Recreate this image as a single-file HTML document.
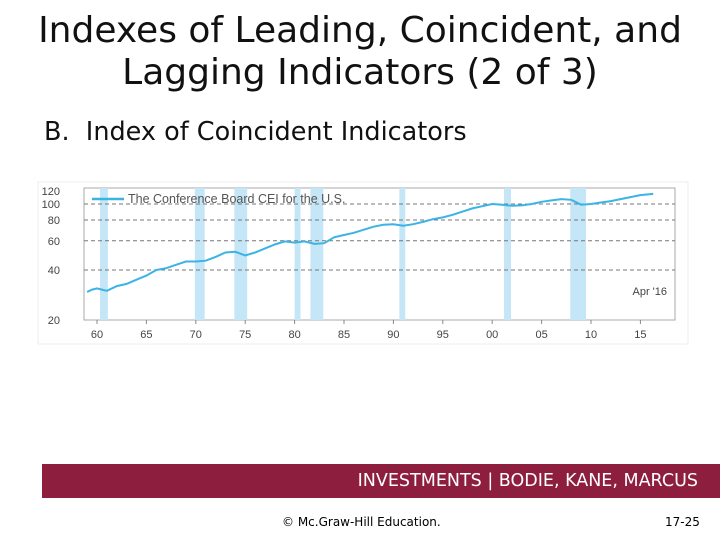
<!DOCTYPE html>
<html><head><meta charset="utf-8"><style>
body{margin:0;width:720px;height:540px;background:#fff;font-family:"DejaVu Sans","Liberation Sans",sans-serif;position:relative;overflow:hidden}
.t{position:absolute;left:0;width:720px;text-align:center;font-size:36px;line-height:42px;top:10px;color:#111}
.sub{position:absolute;left:44px;top:117px;font-size:25.5px;color:#111}
.bar{position:absolute;left:42px;top:464px;width:678px;height:34px;background:#8e1e3e;color:#fff;font-size:17.5px}
.bar span{position:absolute;right:22px;top:7px}
.f1{position:absolute;left:282px;top:515px;font-size:12px}
.f2{position:absolute;left:665px;top:515px;font-size:12px}
</style></head><body>
<div class="t">Indexes of Leading, Coincident, and<br>Lagging Indicators (2 of 3)</div>
<div class="sub">B.&nbsp; Index of Coincident Indicators</div>
<svg id="chart" style="position:absolute;left:0;top:0" width="720" height="540"></svg>
<div class="bar"><span>INVESTMENTS | BODIE, KANE, MARCUS</span></div>
<div class="f1">© Mc.Graw-Hill Education.</div>
<div class="f2">17-25</div>
<script>
const years=[1959,1959.5,1960,1960.5,1961,1962,1963,1964,1965,1966,1967,1968,1969,1970,1971,1972,1973,1974,1975,1976,1977,1978,1979,1980,1981,1982,1983,1984,1985,1986,1987,1988,1989,1990,1991,1992,1993,1994,1995,1996,1997,1998,1999,2000,2001,2002,2003,2004,2005,2006,2007,2008,2009,2010,2011,2012,2013,2014,2015,2016.3];
const values=[29.5,30.5,31,30.5,30,32,33,35,37,40,41,43,45,45,45.5,48,51,51.5,49,51,54,57,59.5,58.5,59.5,57.5,58,63,65,67,70,73,75,75.5,74,75.5,78,81,83,86,90,94,97,100,99,97.5,98,100,103,105,107,106,99,100,102,104,107,110,113,115];
const recStart=[1960.3,1969.9,1973.9,1980.0,1981.6,1990.6,2001.2,2007.9];
const recEnd=[1961.1,1970.9,1975.2,1980.6,1982.9,1991.2,2001.9,2009.5];
const yTicks=[20,40,60,80,100,120];
const xTicks=[1960,1965,1970,1975,1980,1985,1990,1995,2000,2005,2010,2015];
const xLabels=["60","65","70","75","80","85","90","95","00","05","10","15"];
const NS="http://www.w3.org/2000/svg",svg=document.getElementById('chart');
const X=y=>97+(y-1960)*9.88, Y=v=>320-72.1*Math.log(v/20);
function el(t,a,p){const e=document.createElementNS(NS,t);for(const k in a)e.setAttribute(k,a[k]);(p||svg).appendChild(e);return e;}
const bg=el('rect',{x:38,y:182,width:650,height:162,fill:'#fff',stroke:'#eee'});


const pb=el('rect',{x:84,y:188,width:591,height:132,fill:'#fff',stroke:'#aaa'});


recStart.forEach((s,i)=>{const r=el('rect',{x:X(s),y:188,width:X(recEnd[i])-X(s),height:132,fill:'#c4e6f7'});

});
yTicks.forEach(v=>{if(v>=40&&v<=100){const g=el('line',{x1:84,x2:675,y1:Y(v),y2:Y(v),stroke:'#777','stroke-dasharray':'4,3'});

}
const t=el('text',{x:60,y:Y(v)+4,'text-anchor':'end','font-size':11,fill:'#444','font-family':'Liberation Sans'});t.textContent=v;

});
xTicks.forEach((y,i)=>{el('line',{x1:X(y),x2:X(y),y1:320,y2:324,stroke:'#888'});
const t=el('text',{x:X(y),y:338,'text-anchor':'middle','font-size':11,fill:'#444','font-family':'Liberation Sans'});t.textContent=xLabels[i];

});
const p=el('path',{d:years.map((y,i)=>(i?'L':'M')+X(y).toFixed(1)+','+Y(values[i]).toFixed(1)).join(''),fill:'none',stroke:'#3bb4e5','stroke-width':2});


el('line',{x1:92,x2:124,y1:199,y2:199,stroke:'#3bb4e5','stroke-width':2.5});
const lt=el('text',{x:128,y:203,'font-size':12.5,fill:'#555','font-family':'Liberation Sans'});lt.textContent='The Conference Board CEI for the U.S.';


const at=el('text',{x:667,y:295,'text-anchor':'end','font-size':11,fill:'#444','font-family':'Liberation Sans'});at.textContent="Apr '16";


</script>
</body></html>
